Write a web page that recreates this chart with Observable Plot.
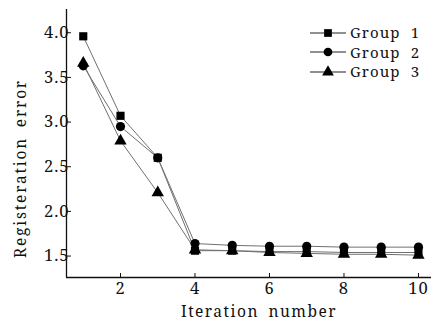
<!DOCTYPE html>
<html>
<head>
<script src="https://cdn.jsdelivr.net/npm/d3@7"></script>
<script src="https://cdn.jsdelivr.net/npm/@observablehq/plot@0.6"></script>
<style>
  html, body { margin: 0; padding: 0; background: #fff; }
  #wrap { position: relative; width: 431px; height: 324px; }
  #wrap svg text { letter-spacing: 1px; word-spacing: 4px; }
  #legend { position: absolute; left: 310px; top: 23px; font-family: "Noto Serif"; font-size: 15px; line-height: 15px; color: #111; letter-spacing: 1.1px; word-spacing: 5px; }
  #legend div { display: flex; align-items: center; height: 19.5px; }
  #legend span { line-height: 15px; display: inline-block; height: 15px; }
  #legend svg { margin-right: 4px; }
</style>
</head>
<body>
<div id="wrap"></div>
<script>
const iterations = [1, 2, 3, 4, 5, 6, 7, 8, 9, 10];
const group1 = [3.96, 3.07, 2.60, 1.56, 1.56, 1.55, 1.55, 1.54, 1.54, 1.54];
const group2 = [3.63, 2.95, 2.60, 1.64, 1.62, 1.61, 1.61, 1.60, 1.60, 1.60];
const group3 = [3.66, 2.79, 2.21, 1.57, 1.56, 1.54, 1.53, 1.52, 1.52, 1.51];
const seriesNames = ["Group 1", "Group 2", "Group 3"];
const seriesSymbols = ["square", "circle", "triangle"];
const xTicks = [2, 4, 6, 8, 10];
const yTicks = [1.5, 2.0, 2.5, 3.0, 3.5, 4.0];
const xTitle = "Iteration number";
const yTitle = "Registeration error";

const values = [group1, group2, group3];
const data = [];
values.forEach((arr, s) => arr.forEach((v, i) => data.push({x: iterations[i], y: v, g: seriesNames[s], sym: seriesSymbols[s]})));

const font = "Noto Serif";
const lineColor = "#707070";
const plot = Plot.plot({
  width: 431,
  height: 324,
  marginLeft: 66,
  marginRight: 0,
  marginTop: 9,
  marginBottom: 47,
  style: {fontSize: "16.5px", color: "#111", background: "#fff"},
  x: {domain: [0.55, 10.35]},
  y: {domain: [1.26, 4.26]},
  symbol: {domain: seriesSymbols, range: seriesSymbols},
  marks: [
    Plot.axisX({ticks: xTicks, tickSize: -4, tickPadding: 9, label: null, fontSize: 16.5, fontFamily: font}),
    Plot.axisY({ticks: yTicks, tickSize: -5, tickPadding: 2, tickFormat: d3.format(".1f"), label: null, fontSize: 16.5, fontFamily: font}),
    Plot.ruleX([0.55], {stroke: "#111", strokeWidth: 1.3}),
    Plot.ruleY([1.26], {stroke: "#111", strokeWidth: 1.3}),
    Plot.line(data, {x: "x", y: "y", z: "g", stroke: lineColor, strokeWidth: 1}),
    Plot.dot(data, {x: "x", y: "y", symbol: "sym", fill: "#000", stroke: "none", r: 4.6}),
    Plot.text([xTitle], {frameAnchor: "bottom", dx: 10, dy: 39.5, fontSize: 15.5, fontFamily: font, text: d => d, fill: "#111"}),
    Plot.text([yTitle], {frameAnchor: "left", textAnchor: "middle", dx: -45, dy: 25, rotate: -90, fontSize: 15.5, fontFamily: font, text: d => d, fill: "#111"})
  ]
});
const wrap = document.getElementById("wrap");
wrap.appendChild(plot);
const texts = Array.from(plot.querySelectorAll("text"));
const yt = texts.find(t => t.textContent === yTitle);
if (yt) yt.style.letterSpacing = "1.8px";
const xt = texts.find(t => t.textContent === xTitle);
if (xt) xt.style.letterSpacing = "1.5px";

const symbolMap = {square: d3.symbolSquare, circle: d3.symbolCircle, triangle: d3.symbolTriangle};
const legend = document.createElement("div");
legend.id = "legend";
seriesNames.forEach((name, i) => {
  const row = document.createElement("div");
  const svg = d3.create("svg").attr("width", 36).attr("height", 14);
  svg.append("line").attr("x1", 0).attr("x2", 36).attr("y1", 7).attr("y2", 7).attr("stroke", "#222").attr("stroke-width", 1.2);
  svg.append("path").attr("transform", "translate(18,7)")
    .attr("d", d3.symbol(symbolMap[seriesSymbols[i]], 60)())
    .attr("fill", "#000");
  row.appendChild(svg.node());
  const span = document.createElement("span");
  span.textContent = name;
  row.appendChild(span);
  legend.appendChild(row);
});
wrap.appendChild(legend);
</script>
</body>
</html>
